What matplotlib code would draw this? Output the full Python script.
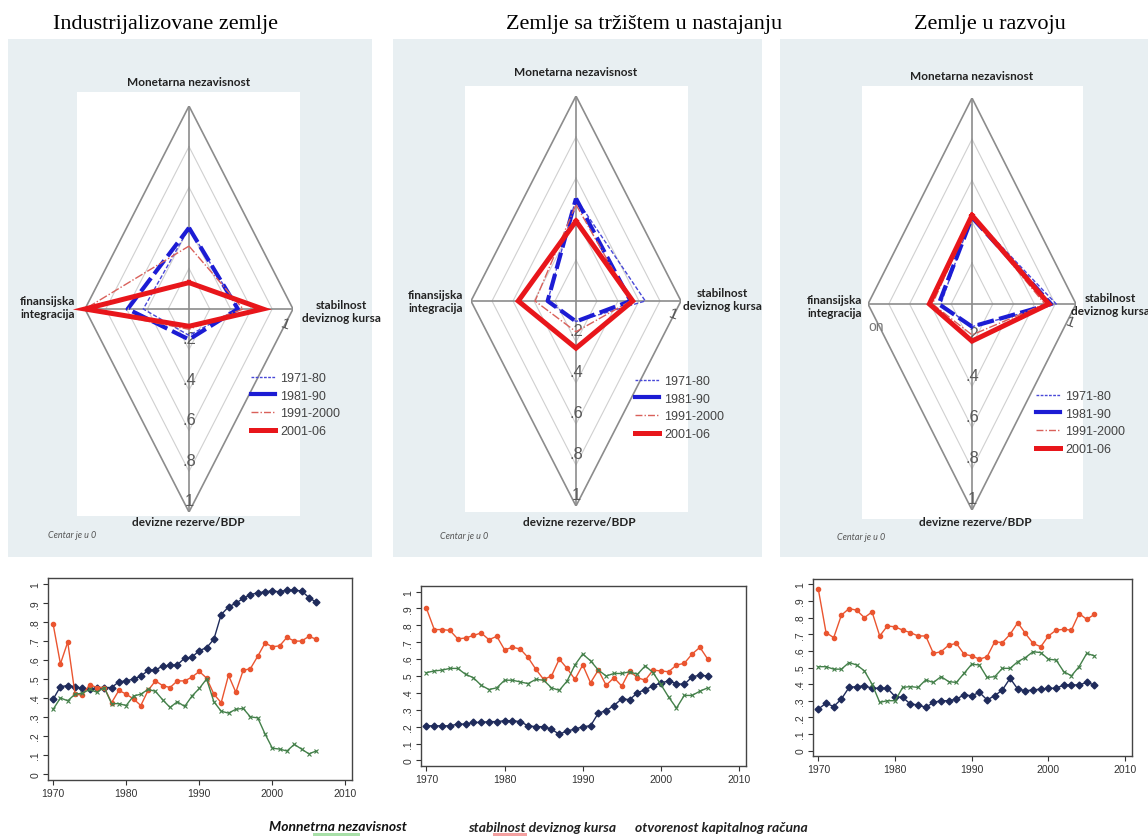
import numpy as np
import matplotlib
matplotlib.use('Agg')
import matplotlib.pyplot as plt
from matplotlib.lines import Line2D
from matplotlib.patches import Rectangle

W, H = 1148, 837

# --- radar data: [monetarna (top), stabilnost (right), devizne rez. (bottom), finansijska (left)]
periods = ['1971-80', '1981-90', '1991-2000', '2001-06']

ind_7180 = [0.40, 0.47, 0.13, 0.44]
ind_8190 = [0.40, 0.47, 0.15, 0.59]
ind_9100 = [0.31, 0.52, 0.10, 1.00]
ind_0106 = [0.13, 0.71, 0.085, 1.00]

em_7180 = [0.50, 0.66, 0.10, 0.27]
em_8190 = [0.50, 0.52, 0.10, 0.27]
em_9100 = [0.47, 0.52, 0.15, 0.39]
em_0106 = [0.39, 0.54, 0.23, 0.55]

dev_7180 = [0.43, 0.81, 0.11, 0.30]
dev_8190 = [0.42, 0.76, 0.11, 0.32]
dev_9100 = [0.43, 0.70, 0.15, 0.38]
dev_0106 = [0.43, 0.74, 0.18, 0.41]

# --- time series 1970-2006
years = np.arange(1970, 2007)

ind_blue = [0.393, 0.46, 0.465, 0.46, 0.45, 0.445, 0.455, 0.455, 0.455, 0.485,
            0.49, 0.50, 0.515, 0.545, 0.548, 0.568, 0.572, 0.575, 0.61, 0.615,
            0.65, 0.665, 0.71, 0.84, 0.88, 0.90, 0.925, 0.945, 0.955, 0.96,
            0.965, 0.96, 0.97, 0.968, 0.965, 0.93, 0.905]
ind_red = [0.79, 0.58, 0.695, 0.42, 0.415, 0.47, 0.455, 0.455, 0.375, 0.44,
           0.42, 0.395, 0.36, 0.44, 0.49, 0.465, 0.455, 0.49, 0.49, 0.51,
           0.54, 0.505, 0.42, 0.375, 0.52, 0.43, 0.545, 0.555, 0.62, 0.69,
           0.67, 0.675, 0.72, 0.70, 0.70, 0.725, 0.71]
ind_green = [0.34, 0.40, 0.385, 0.42, 0.425, 0.445, 0.43, 0.455, 0.37, 0.37,
             0.36, 0.41, 0.42, 0.445, 0.435, 0.39, 0.35, 0.38, 0.355, 0.41,
             0.45, 0.50, 0.38, 0.33, 0.32, 0.34, 0.345, 0.30, 0.295, 0.21,
             0.135, 0.13, 0.12, 0.155, 0.13, 0.105, 0.12]

em_blue = [0.205, 0.205, 0.205, 0.205, 0.215, 0.215, 0.225, 0.225, 0.23, 0.23,
           0.235, 0.235, 0.23, 0.205, 0.20, 0.20, 0.185, 0.155, 0.175, 0.185,
           0.20, 0.205, 0.28, 0.295, 0.325, 0.365, 0.36, 0.40, 0.42, 0.44,
           0.46, 0.47, 0.455, 0.45, 0.495, 0.505, 0.50]
em_red = [0.90, 0.775, 0.775, 0.77, 0.72, 0.725, 0.74, 0.755, 0.715, 0.735,
          0.655, 0.67, 0.66, 0.61, 0.54, 0.48, 0.50, 0.60, 0.545, 0.48,
          0.565, 0.46, 0.535, 0.445, 0.49, 0.44, 0.53, 0.49, 0.475, 0.535,
          0.53, 0.525, 0.565, 0.575, 0.63, 0.67, 0.60]
em_green = [0.52, 0.53, 0.535, 0.545, 0.545, 0.51, 0.49, 0.445, 0.42, 0.43,
            0.475, 0.475, 0.465, 0.455, 0.48, 0.475, 0.43, 0.415, 0.47, 0.565,
            0.63, 0.59, 0.535, 0.50, 0.515, 0.515, 0.525, 0.51, 0.56, 0.52,
            0.45, 0.375, 0.31, 0.385, 0.385, 0.41, 0.43]

dev_blue = [0.25, 0.285, 0.265, 0.31, 0.38, 0.385, 0.39, 0.375, 0.375, 0.375,
            0.325, 0.32, 0.28, 0.275, 0.26, 0.29, 0.30, 0.30, 0.31, 0.335,
            0.33, 0.35, 0.305, 0.33, 0.365, 0.435, 0.37, 0.36, 0.365, 0.37,
            0.375, 0.375, 0.395, 0.395, 0.395, 0.41, 0.395]
dev_red = [0.97, 0.71, 0.68, 0.815, 0.855, 0.845, 0.80, 0.835, 0.69, 0.75,
           0.745, 0.725, 0.71, 0.69, 0.69, 0.585, 0.595, 0.635, 0.645, 0.58,
           0.57, 0.55, 0.565, 0.655, 0.65, 0.70, 0.77, 0.705, 0.645, 0.625,
           0.69, 0.725, 0.73, 0.725, 0.825, 0.79, 0.82]
dev_green = [0.505, 0.505, 0.49, 0.49, 0.53, 0.515, 0.48, 0.40, 0.29, 0.30,
             0.30, 0.38, 0.385, 0.38, 0.425, 0.41, 0.445, 0.415, 0.41, 0.465,
             0.52, 0.515, 0.44, 0.445, 0.495, 0.495, 0.535, 0.56, 0.595, 0.59,
             0.55, 0.545, 0.475, 0.45, 0.505, 0.585, 0.57]

titles = ['Industrijalizovane zemlje', 'Zemlje sa tržištem u nastajanju', 'Zemlje u razvoju']
radar_ticks = [0.2, 0.4, 0.6, 0.8, 1.0]
radar_tick_labels = ['.2', '.4', '.6', '.8', '1']
yticks = np.arange(0, 1.01, 0.1)
ytick_labels = ['0', '.1', '.2', '.3', '.4', '.5', '.6', '.7', '.8', '.9', '1']


def rect(x0, y0, x1, y1):
    return [x0 / W, 1 - y1 / H, (x1 - x0) / W, (y1 - y0) / H]


def fx(x):
    return x / W


def fy(y):
    return 1 - y / H


narrow = ['Liberation Sans Narrow', 'Liberation Sans', 'DejaVu Sans']
lbl_font = ['Lato', 'Open Sans', 'DejaVu Sans']

styles = [
    dict(color='#4848d8', lw=1.0, dashes=[3, 1.5]),
    dict(color='#1c1cd4', lw=3.0, dashes=[4, 1.3]),
    dict(color='#d9605a', lw=1.0, dashes=[6, 1.5, 1, 1.5]),
    dict(color='#e8161b', lw=3.6),
]
legend_styles = [
    dict(color='#4848d8', lw=1.0, dashes=[2, 1]),
    dict(color='#1c1cd4', lw=3.0),
    dict(color='#d9605a', lw=1.0, dashes=[5, 1.5, 1, 1.5]),
    dict(color='#e8161b', lw=3.6),
]

fig = plt.figure(figsize=(W / 100, H / 100), dpi=100)
fig.patch.set_facecolor('white')

# panel layout (pixels)
panels = [
    dict(bg=(8, 40, 372, 558), white=(77, 93, 300, 517), c=(189, 310), rx=104, ry=203,
         title_x=165, mon=(189, 82), fin=(20, 308), stab=(341, 312), dev=(188, 523),
         cen=(48, 536), slash=(285, 325), leg=(251, 373),
         data=[ind_7180, ind_8190, ind_9100, ind_0106]),
    dict(bg=(393, 40, 762, 558), white=(465, 87, 688, 513), c=(576, 302), rx=105, ry=205,
         title_x=644, mon=(576, 73), fin=(408, 302), stab=(722, 300), dev=(579, 522),
         cen=(440, 537), slash=(673, 315), leg=(635, 376),
         data=[em_7180, em_8190, em_9100, em_0106]),
    dict(bg=(780, 40, 1148, 558), white=(862, 87, 1083, 520), c=(972, 305), rx=104, ry=206,
         title_x=990, mon=(972, 76), fin=(807, 307), stab=(1110, 305), dev=(975, 523),
         cen=(837, 538), slash=(1070, 323), leg=(1036, 391),
         data=[dev_7180, dev_8190, dev_9100, dev_0106]),
]

for i, p in enumerate(panels):
    x0, y0, x1, y1 = p['bg']
    fig.patches.append(Rectangle((fx(x0), fy(y1)), (x1 - x0) / W, (y1 - y0) / H,
                                 transform=fig.transFigure, facecolor='#e8eff2',
                                 edgecolor='none', zorder=-2))
    x0, y0, x1, y1 = p['white']
    fig.patches.append(Rectangle((fx(x0), fy(y1)), (x1 - x0) / W, (y1 - y0) / H,
                                 transform=fig.transFigure, facecolor='white',
                                 edgecolor='none', zorder=-1))

    fig.text(fx(p['title_x']), fy(25), titles[i], ha='center', va='center',
             fontsize=16, family=['Liberation Serif', 'DejaVu Serif'])

    cx, cy = p['c']
    ax = fig.add_axes(rect(cx - p['rx'], cy - p['ry'], cx + p['rx'], cy + p['ry']))
    ax.set_xlim(-1, 1)
    ax.set_ylim(-1, 1)
    ax.axis('off')
    ax.patch.set_alpha(0)

    for r in radar_ticks:
        col = '#8c8c8c' if r == 1.0 else '#d0d0d0'
        lw = 1.2 if r == 1.0 else 0.8
        ax.plot([0, r, 0, -r, 0], [r, 0, -r, 0, r], color=col, lw=lw, zorder=1)
    ax.plot([0, 0], [-1, 1], color='#8c8c8c', lw=1.2, zorder=1)
    ax.plot([-1, 1], [0, 0], color='#8c8c8c', lw=1.2, zorder=1)

    for r, t in zip(radar_ticks, radar_tick_labels):
        ax.text(0, -r + 0.055, t, ha='center', va='center', fontsize=12,
                color='#5a5a5a', family=narrow, zorder=2)

    handles = []
    for vals, st, lst, lab in zip(p['data'], styles, legend_styles, periods):
        top, right, bottom, left = vals
        xs = [0, right, 0, -left, 0]
        ys = [top, 0, -bottom, 0, top]
        ax.plot(xs, ys, solid_joinstyle='miter', zorder=3, clip_on=False, **st)
        handles.append(Line2D([], [], label=lab, **lst))

    lx, ly = p['leg']
    ax.legend(handles=handles, loc='upper left', bbox_to_anchor=(fx(lx), fy(ly)),
              bbox_transform=fig.transFigure, frameon=False, handlelength=1.9,
              handletextpad=0.45, labelspacing=0.45, borderpad=0, borderaxespad=0,
              prop=dict(family=narrow, size=9), labelcolor='#444444')

    sx, sy = p['slash']
    fig.text(fx(sx), fy(sy), '1', ha='center', va='center', fontsize=11,
             rotation=-20, color='#555555', family=narrow)

    fig.text(fx(p['mon'][0]), fy(p['mon'][1]), 'Monetarna nezavisnost', ha='center',
             va='center', fontsize=8.5, fontweight='bold', family=lbl_font, color='#222222')
    fig.text(fx(p['fin'][0]), fy(p['fin'][1]), 'finansijska\nintegracija', ha='left',
             va='center', fontsize=8.5, fontweight='bold', family=lbl_font,
             color='#222222', linespacing=1.15)
    fig.text(fx(p['stab'][0]), fy(p['stab'][1]), 'stabilnost\ndeviznog kursa', ha='center',
             va='center', fontsize=8.5, fontweight='bold', family=lbl_font,
             color='#222222', linespacing=1.15)
    fig.text(fx(p['dev'][0]), fy(p['dev'][1]), 'devizne rezerve/BDP', ha='center',
             va='center', fontsize=8.5, fontweight='bold', family=lbl_font, color='#222222')
    fig.text(fx(p['cen'][0]), fy(p['cen'][1]), 'Centar je u 0', ha='left', va='center',
             fontsize=6.5, style='italic', family=lbl_font, color='#555555')

fig.text(fx(868), fy(327), 'on', ha='left', va='center', fontsize=10,
         color='#777777', family=narrow)

# --- bottom line charts
line_axes = [(48, 579, 352, 781), (421, 587, 746, 767), (813, 580, 1132, 757)]
series = [(ind_blue, ind_red, ind_green), (em_blue, em_red, em_green),
          (dev_blue, dev_red, dev_green)]

for (x0, y0, x1, y1), (b, r, g) in zip(line_axes, series):
    ax = fig.add_axes(rect(x0, y0, x1, y1))
    ax.plot(years, b, color='#1f2b5b', lw=1.0, marker='D', ms=3.5, mec='#1f2b5b')
    ax.plot(years, r, color='#ea5530', lw=1.0, marker='o', ms=3.0, mec='#ea5530')
    ax.plot(years, g, color='#44804a', lw=1.0, marker='x', ms=3.5, mew=0.8)
    ax.set_xlim(1969.3, 2010.9)
    ax.set_ylim(-0.033, 1.033)
    ax.set_xticks([1970, 1980, 1990, 2000, 2010])
    ax.set_yticks(yticks)
    ax.set_yticklabels(ytick_labels, rotation=90, va='center')
    for lab in ax.get_xticklabels() + ax.get_yticklabels():
        lab.set_family(narrow)
        lab.set_fontsize(7.5)
        lab.set_color('#333333')
    ax.tick_params(direction='out', length=3.5, width=0.8, color='#333333', pad=2)
    for s in ax.spines.values():
        s.set_color('#444444')
        s.set_linewidth(1.0)

# bottom legend labels
fig.text(fx(338), fy(827), 'Monnetrna nezavisnost', ha='center', va='center',
         fontsize=10, fontweight='bold', style='italic', family=lbl_font, color='#111111')
fig.text(fx(542), fy(828), 'stabilnost deviznog kursa', ha='center', va='center',
         fontsize=10, fontweight='bold', style='italic', family=lbl_font, color='#222222')
fig.text(fx(721), fy(828), 'otvorenost kapitalnog računa', ha='center', va='center',
         fontsize=10, fontweight='bold', style='italic', family=lbl_font, color='#222222')
fig.patches.append(Rectangle((fx(313), fy(837)), 47 / W, 3 / H, transform=fig.transFigure,
                             facecolor='#a8e0a8', edgecolor='none'))
fig.patches.append(Rectangle((fx(493), fy(837)), 34 / W, 3 / H, transform=fig.transFigure,
                             facecolor='#f4a0a0', edgecolor='none'))

fig.savefig('out.png', dpi=100)
